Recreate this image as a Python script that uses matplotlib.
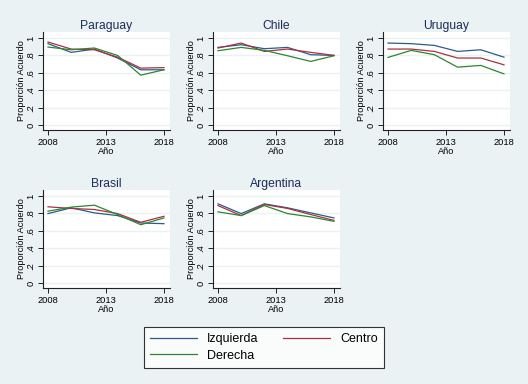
import matplotlib
matplotlib.use('Agg')
import matplotlib.pyplot as plt

plt.rcParams['font.family'] = ['Liberation Sans', 'DejaVu Sans']

years = [2008, 2010, 2012, 2014, 2016, 2018]
countries = ['Paraguay', 'Chile', 'Uruguay', 'Brasil', 'Argentina']
series_names = ['Izquierda', 'Centro', 'Derecha']

izquierda = {
    'Paraguay': [0.935, 0.835, 0.873, 0.77, 0.635, 0.635],
    'Chile': [0.892, 0.923, 0.877, 0.892, 0.808, 0.80],
    'Uruguay': [0.942, 0.935, 0.915, 0.846, 0.865, 0.78],
    'Brasil': [0.798, 0.864, 0.806, 0.775, 0.69, 0.682],
    'Argentina': [0.91, 0.798, 0.91, 0.864, 0.806, 0.748],
}
centro = {
    'Paraguay': [0.954, 0.873, 0.865, 0.78, 0.654, 0.66],
    'Chile': [0.885, 0.942, 0.846, 0.873, 0.835, 0.80],
    'Uruguay': [0.873, 0.873, 0.846, 0.77, 0.77, 0.692],
    'Brasil': [0.876, 0.857, 0.845, 0.798, 0.698, 0.767],
    'Argentina': [0.89, 0.775, 0.903, 0.857, 0.787, 0.72],
}
derecha = {
    'Paraguay': [0.896, 0.865, 0.885, 0.80, 0.573, 0.635],
    'Chile': [0.854, 0.892, 0.858, 0.796, 0.731, 0.796],
    'Uruguay': [0.777, 0.858, 0.808, 0.665, 0.685, 0.588],
    'Brasil': [0.826, 0.872, 0.895, 0.787, 0.67, 0.748],
    'Argentina': [0.818, 0.775, 0.89, 0.798, 0.76, 0.709],
}

bg = '#eaf2f3'
colors = ['#2c5a8c', '#a8323e', '#2e8530']
title_color = '#1e2d5a'

W, H = 528, 384
fig = plt.figure(figsize=(W / 100, H / 100), dpi=100)
fig.patch.set_facecolor(bg)

lefts = [43, 213, 383]
tops = [32, 190]
aw, ah = 127, 98

positions = [(0, 0), (0, 1), (0, 2), (1, 0), (1, 1)]
handles = []
for name, (r, c) in zip(countries, positions):
    ax = fig.add_axes([lefts[c] / W, 1 - (tops[r] + ah) / H, aw / W, ah / H])
    ax.set_facecolor('white')
    for vals, col, lab in zip([izquierda[name], centro[name], derecha[name]], colors, series_names):
        ln, = ax.plot(years, vals, color=col, lw=0.9, label=lab)
        if name == 'Paraguay':
            handles.append(ln)
    ax.set_xlim(2007.57, 2018.52)
    ax.set_ylim(-0.057, 1.069)
    ax.set_xticks([2008, 2013, 2018])
    ax.set_yticks([0, 0.2, 0.4, 0.6, 0.8, 1.0])
    ax.set_yticklabels(['0', '.2', '.4', '.6', '.8', '1'], rotation=90, va='center')
    ax.grid(axis='y', color=bg, lw=1.0)
    ax.set_axisbelow(True)
    for s in ['top', 'right']:
        ax.spines[s].set_visible(False)
    for s in ['left', 'bottom']:
        ax.spines[s].set_color('#222222')
        ax.spines[s].set_linewidth(0.8)
    ax.tick_params(labelsize=6.7, length=3.5, width=0.7, color='#222222', pad=2)
    ax.set_title(name, fontsize=8.7, color=title_color, pad=2.5)
    ax.set_ylabel('Proporción Acuerdo', fontsize=6.6, labelpad=0)
    ax.set_xlabel('Año', fontsize=6.6, labelpad=0.5)

leg = fig.legend([handles[0], handles[2], handles[1]],
                 ['Izquierda', 'Derecha', 'Centro'],
                 loc='center', bbox_to_anchor=(0.4995, 0.095),
                 ncol=2, fontsize=9, frameon=True, fancybox=False,
                 handlelength=3.8, handletextpad=0.8, columnspacing=1.9,
                 borderpad=0.5, labelspacing=0.35)
leg.get_frame().set_edgecolor('black')
leg.get_frame().set_linewidth(0.8)
leg.get_frame().set_facecolor('white')

fig.savefig('out.png', dpi=100, facecolor=bg)
